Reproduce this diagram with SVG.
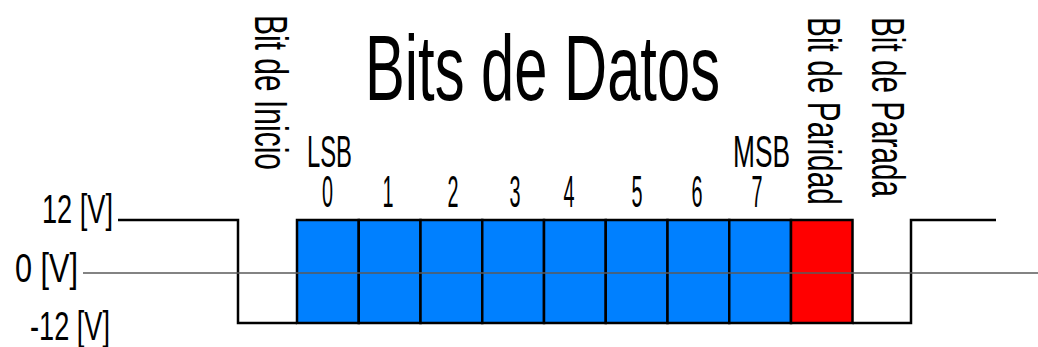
<svg xmlns="http://www.w3.org/2000/svg" width="1038" height="347" viewBox="0 0 1038 347">
<style>
  text { font-family: "Liberation Sans", "DejaVu Sans", sans-serif; fill: #000; }
  .lbl { font-size: 40px; }
  .sm { font-size: 44px; }
  .vert { font-size: 46px; }
  .box { stroke: #000; stroke-width: 2.5; }
  .data { fill: #0080ff; }
  .par { fill: #ff0000; }
  .sig { fill: none; stroke: #000; stroke-width: 2.5; }
  .zero { stroke: #5a5a5a; stroke-width: 1.5; }
</style>
<rect width="1038" height="347" fill="#fff"/>
<g id="title"><text x="365" y="100" style="font-size:93px" textLength="355" lengthAdjust="spacingAndGlyphs">Bits de Datos</text></g>
<g id="voltage-labels">
  <text class="lbl" x="42" y="223" textLength="71" lengthAdjust="spacingAndGlyphs">12 [V]</text>
  <text class="lbl" x="15" y="282" textLength="63" lengthAdjust="spacingAndGlyphs">0 [V]</text>
  <text class="lbl" x="30" y="340" textLength="80" lengthAdjust="spacingAndGlyphs">-12 [V]</text>
</g>
<g id="start-label"><text class="vert" transform="translate(255,15) rotate(90)" textLength="155" lengthAdjust="spacingAndGlyphs">Bit de Inicio</text></g>
<g id="parity-label"><text class="vert" transform="translate(808,17) rotate(90)" textLength="188" lengthAdjust="spacingAndGlyphs">Bit de Paridad</text></g>
<g id="stop-label"><text class="vert" transform="translate(872,17) rotate(90)" textLength="180" lengthAdjust="spacingAndGlyphs">Bit de Parada</text></g>
<g id="lsb-label"><text class="sm" x="307" y="167" textLength="45" lengthAdjust="spacingAndGlyphs">LSB</text></g>
<g id="msb-label"><text class="sm" x="733" y="167" textLength="57" lengthAdjust="spacingAndGlyphs">MSB</text></g>
<g id="bit0"><rect class="box data" x="297" y="220" width="61.75" height="103"/><text class="sm" text-anchor="middle" transform="translate(327.5,207) scale(0.45,1)">0</text></g>
<g id="bit1"><rect class="box data" x="358.75" y="220" width="61.75" height="103"/><text class="sm" text-anchor="middle" transform="translate(388,207) scale(0.45,1)">1</text></g>
<g id="bit2"><rect class="box data" x="420.5" y="220" width="61.75" height="103"/><text class="sm" text-anchor="middle" transform="translate(453,207) scale(0.45,1)">2</text></g>
<g id="bit3"><rect class="box data" x="482.25" y="220" width="61.75" height="103"/><text class="sm" text-anchor="middle" transform="translate(515,207) scale(0.45,1)">3</text></g>
<g id="bit4"><rect class="box data" x="544" y="220" width="61.75" height="103"/><text class="sm" text-anchor="middle" transform="translate(569,207) scale(0.45,1)">4</text></g>
<g id="bit5"><rect class="box data" x="605.75" y="220" width="61.75" height="103"/><text class="sm" text-anchor="middle" transform="translate(637,207) scale(0.45,1)">5</text></g>
<g id="bit6"><rect class="box data" x="667.5" y="220" width="61.75" height="103"/><text class="sm" text-anchor="middle" transform="translate(697,207) scale(0.45,1)">6</text></g>
<g id="bit7"><rect class="box data" x="729.25" y="220" width="61.75" height="103"/><text class="sm" text-anchor="middle" transform="translate(757,207) scale(0.45,1)">7</text></g>
<g id="parity-bit"><rect class="box par" x="791" y="220" width="61.5" height="103"/></g>
<g id="connectors">
  <polyline class="sig" points="118,220 238,220 238,323 297,323"/>
  <polyline class="sig" points="852.5,323 911,323 911,220 996,220"/>
  <line class="zero" x1="83" y1="273" x2="1038" y2="273"/>
</g>
</svg>
